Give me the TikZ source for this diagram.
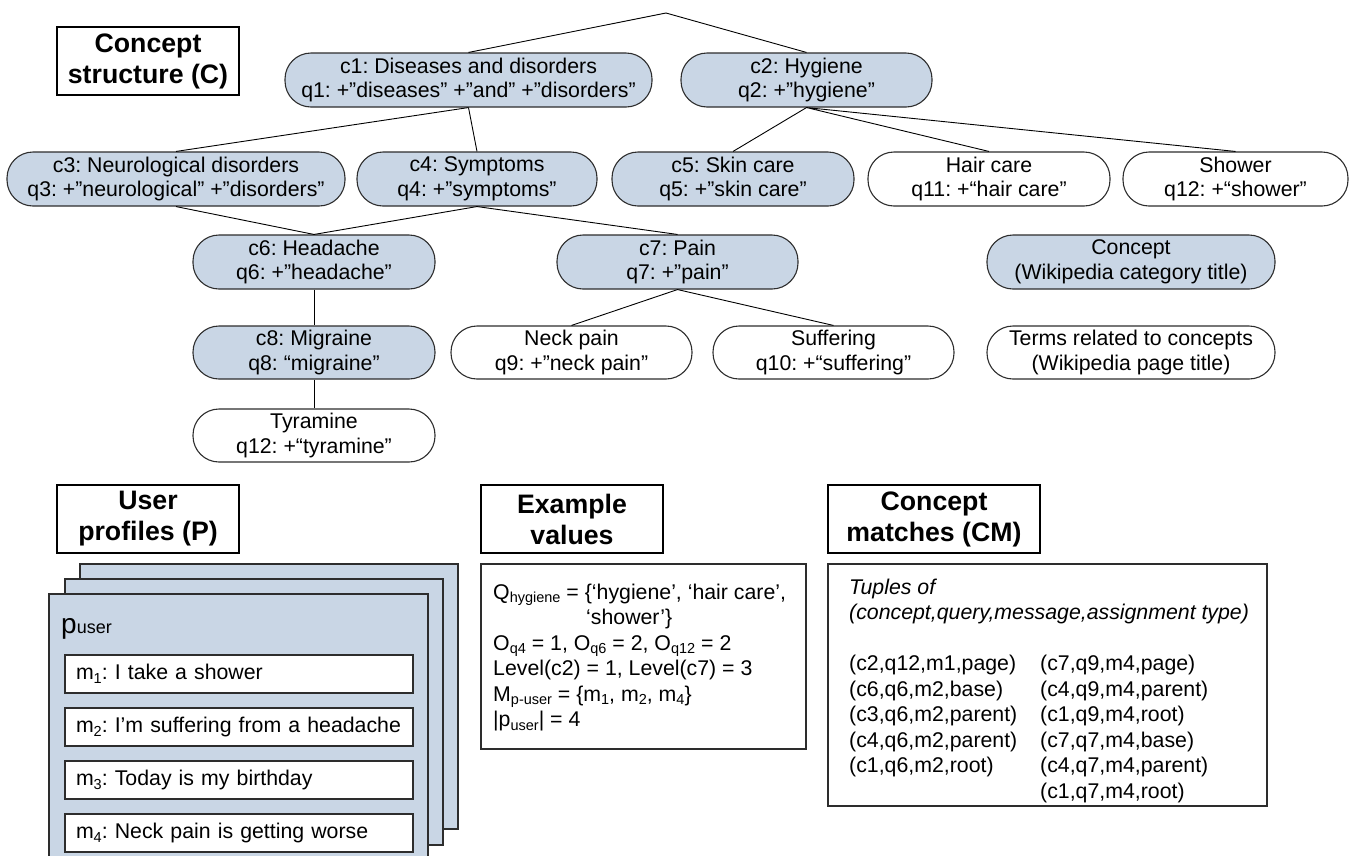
\documentclass[tikz,border=0pt]{standalone}
\usepackage{fontspec}
\setmainfont{Liberation Sans}
\definecolor{cfill}{RGB}{201,214,229}
\definecolor{edge}{RGB}{45,45,45}
% small lowered text for indices
\newcommand\lowtxt[1]{\raisebox{-0.35ex}{\fontsize{14.5}{14.5}\selectfont #1}}
\begin{document}
\frenchspacing
\begin{tikzpicture}[x=1pt,y=-1pt,
  pill/.style={draw=edge, line width=1.1pt, rounded corners=26pt, inner sep=0pt,
    align=center, minimum height=54pt, font=\fontsize{21.3}{24.5}\selectfont},
  concept/.style={pill, fill=cfill},
  term/.style={pill, fill=white},
  link/.style={draw=black, line width=0.9pt},
  titlebox/.style={draw=black, line width=1.4pt, fill=white, minimum width=182pt,
    minimum height=68pt, inner sep=0pt, align=center,
    font=\fontsize{26.7}{31}\selectfont\bfseries},
  panel/.style={draw=edge, line width=1.1pt, fill=white},
  page/.style={draw=edge, line width=1.1pt, fill=cfill},
  msg/.style={draw=edge, line width=1.1pt, fill=white, minimum width=348pt,
    minimum height=38pt, text width=326pt, inner xsep=11pt, inner ysep=0pt,
    align=left, font=\fontsize{21.3}{24.5}\selectfont},
  txt/.style={anchor=base west, inner sep=0pt, font=\fontsize{21.3}{24.5}\selectfont},
]
\useasboundingbox (0,0) rectangle (1350,855);
\clip (0,0) rectangle (1350,855);

% ---------- concept structure ----------
\node[titlebox] (ctitle) at (148,61) {Concept\\structure (C)};

\coordinate (root) at (666,13);
\node[concept, minimum width=367pt] (c1) at (468.5,80) {c1: Diseases and disorders\\q1: +”diseases” +”and” +”disorders”};
\node[concept, minimum width=251pt] (c2) at (806.5,80) {c2: Hygiene\\q2: +”hygiene”};

\node[concept, minimum width=338pt] (c3) at (176,179) {c3: Neurological disorders\\q3: +”neurological” +”disorders”};
\node[concept, minimum width=240pt] (c4) at (477,179) {c4: Symptoms\\q4: +”symptoms”};
\node[concept, minimum width=242pt] (c5) at (733,179) {c5: Skin care\\q5: +”skin care”};
\node[term, minimum width=242pt] (hair) at (989,179) {Hair care\\q11: +“hair care”};
\node[term, minimum width=225pt] (shower) at (1235.5,179) {Shower\\q12: +“shower”};

\node[concept, minimum width=242pt] (c6) at (314,262) {c6: Headache\\q6: +”headache”};
\node[concept, minimum width=241pt] (c7) at (677.5,262) {c7: Pain\\q7: +”pain”};
\node[concept, minimum width=288pt] (legc) at (1131,262) {Concept\\(Wikipedia category title)};

\node[concept, minimum width=242pt, minimum height=53pt] (c8) at (314,352.5) {c8: Migraine\\q8: “migraine”};
\node[term, minimum width=241pt, minimum height=53pt] (neck) at (571.5,352.5) {Neck pain\\q9: +”neck pain”};
\node[term, minimum width=241pt, minimum height=53pt] (suff) at (833.5,352.5) {Suffering\\q10: +“suffering”};
\node[term, minimum width=288pt, minimum height=53pt] (legt) at (1131,352.5) {Terms related to concepts\\(Wikipedia page title)};

\node[term, minimum width=242pt, minimum height=53pt] (tyr) at (314,435.5) {Tyramine\\q12: +“tyramine”};

\path[link] (root) -- (c1.north) (root) -- (c2.north);
\path[link] (c1.south) -- (c3.north) (c1.south) -- (c4.north);
\path[link] (c2.south) -- (c5.north) (c2.south) -- (hair.north) (c2.south) -- (shower.north);
\path[link] (c3.south) -- (c6.north) (c4.south) -- (c6.north) (c4.south) -- (c7.north);
\path[link] (c6.south) -- (c8.north) (c8.south) -- (tyr.north);
\path[link] (c7.south) -- (neck.north) (c7.south) -- (suff.north);

% ---------- user profiles ----------
\node[titlebox] (ptitle) at (148,519) {User\\profiles (P)};
\draw[page] (80,564) rectangle (458,829);
\draw[page] (65,579) rectangle (443,845);
\draw[page] (49,594) rectangle (428,880);
\node[anchor=base west, inner sep=0pt] (puser) at (61,633)
  {\fontsize{28}{28}\selectfont p\fontsize{18}{18}\selectfont user};
\node[msg] (m1) at (239,674) {\mbox{m\lowtxt{1}: I take a shower}};
\node[msg] (m2) at (239,727) {\mbox{m\lowtxt{2}: I’m suffering from a headache}};
\node[msg] (m3) at (239,780) {\mbox{m\lowtxt{3}: Today is my birthday}};
\node[msg] (m4) at (239,833) {\mbox{m\lowtxt{4}: Neck pain is getting worse}};

% ---------- example values ----------
\node[titlebox] (etitle) at (572,519) {Example\\values};
\draw[panel] (481,564) rectangle (806,749);
\node[txt] (ev1) at (493,599) {Q\lowtxt{hygiene} = \{‘hygiene’, ‘hair care’,};
\node[txt] (ev2) at (586,624.5) {‘shower’\}};
\node[txt] (ev3) at (493,650) {O\lowtxt{q4} = 1, O\lowtxt{q6} = 2, O\lowtxt{q12} = 2};
\node[txt] (ev4) at (493,675.5) {Level(c2) = 1, Level(c7) = 3};
\node[txt] (ev5) at (493,701) {M\lowtxt{p-user} = \{m\lowtxt{1}, m\lowtxt{2}, m\lowtxt{4}\}};
\node[txt] (ev6) at (493,726.5) {|p\lowtxt{user}| = 4};

% ---------- concept matches ----------
\node[titlebox, minimum width=212pt] (mtitle) at (934,519) {Concept\\matches (CM)};
\draw[panel] (828,564) rectangle (1267,806);
\node[txt] (cmh1) at (849,594) {\itshape Tuples of};
\node[txt] (cmh2) at (849,619.5) {\itshape (concept,query,message,assignment type)};
\node[txt] (a1) at (849,670.5) {(c2,q12,m1,page)};
\node[txt] (a2) at (849,696) {(c6,q6,m2,base)};
\node[txt] (a3) at (849,721.5) {(c3,q6,m2,parent)};
\node[txt] (a4) at (849,747) {(c4,q6,m2,parent)};
\node[txt] (a5) at (849,772.5) {(c1,q6,m2,root)};
\node[txt] (b1) at (1040,670.5) {(c7,q9,m4,page)};
\node[txt] (b2) at (1040,696) {(c4,q9,m4,parent)};
\node[txt] (b3) at (1040,721.5) {(c1,q9,m4,root)};
\node[txt] (b4) at (1040,747) {(c7,q7,m4,base)};
\node[txt] (b5) at (1040,772.5) {(c4,q7,m4,parent)};
\node[txt] (b6) at (1040,798) {(c1,q7,m4,root)};
\end{tikzpicture}
\end{document}
